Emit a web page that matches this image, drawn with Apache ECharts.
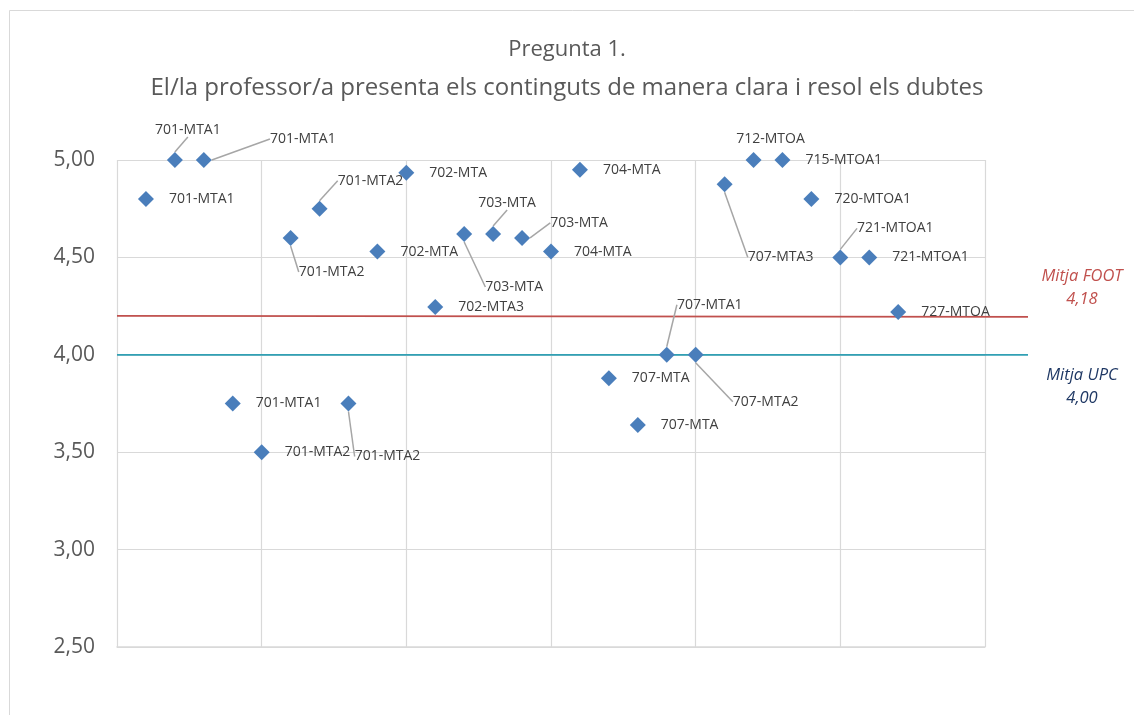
<!DOCTYPE html>
<html><head><meta charset="utf-8">
<script src="https://cdn.jsdelivr.net/npm/echarts@6/dist/echarts.min.js"></script>
<style>html,body{margin:0;padding:0;background:#fff}#c{width:1134px;height:715px}</style>
</head><body><div id="c"></div>
<script>
// ---- data ----
const titleLines = ['Pregunta 1.', 'El/la professor/a presenta els continguts de manera clara i resol els dubtes'];
const groupIndex = [1,2,3,4,5,6,7,8,9,10,11,12,13,14,15,16,17,18,19,20,21,22,23,24,25,26,27];
const groupLabels = ['701-MTA1','701-MTA1','701-MTA1','701-MTA1','701-MTA2','701-MTA2','701-MTA2','701-MTA2',
  '702-MTA','702-MTA','702-MTA3','703-MTA','703-MTA','703-MTA','704-MTA','704-MTA',
  '707-MTA','707-MTA','707-MTA1','707-MTA2','707-MTA3','712-MTOA','715-MTOA1','720-MTOA1',
  '721-MTOA1','721-MTOA1','727-MTOA'];
const scores = [4.80,5.00,5.00,3.75,3.50,4.60,4.75,3.75,
  4.53,4.935,4.245,4.62,4.62,4.60,4.53,4.95,
  3.88,3.64,4.00,4.00,4.875,5.00,5.00,4.80,
  4.50,4.50,4.22];
const yTicks = [2.5, 3.0, 3.5, 4.0, 4.5, 5.0];
const avgNames = ['Mitja FOOT', 'Mitja UPC'];
const avgValues = [4.18, 4.00];
const footLineY = [4.20, 4.195];   // line as drawn in the picture
const upcLineY = [4.00, 4.00];
const lineX = [0, 1];              // from the left of the plot to past its right edge

// ---- layout (label offsets in px from point centre to label centre) ----
const leaderOffsets = {
  1:[13,-30], 2:[99,-21], 5:[41,34], 6:[51,-28], 7:[39,53],
  11:[50,53], 12:[14,-31], 13:[57,-15], 18:[43,-50], 19:[70,47],
  20:[56,73], 24:[55,-29]
};
const topOffsets = { 21:[17,-21] };

const fmt = v => v.toFixed(2).replace('.', ',');
const FONT = 'Open Sans';
const BLUE = '#4a7ebb';

const plainData = [], leaderData = [], leaderOff = [];
groupIndex.forEach((x, i) => {
  const item = { value: [x, scores[i]], name: groupLabels[i] };
  if (leaderOffsets[i]) { leaderData.push(item); leaderOff.push(leaderOffsets[i]); }
  else {
    if (topOffsets[i]) item.label = { position: 'inside', offset: topOffsets[i] };
    plainData.push(item);
  }
});

const chart = echarts.init(document.getElementById('c'), null, { renderer: 'canvas' });
chart.setOption({
  animation: false,
  backgroundColor: '#fff',
  title: {
    text: '{a|' + titleLines[0] + '}\n{b|' + titleLines[1] + '}', left: 'center', top: 26,
    textStyle: {
      fontWeight: 'normal',
      rich: {
        a: { fontFamily: FONT, fontSize: 22, fontWeight: 'normal', color: '#595959', lineHeight: 38 },
        b: { fontFamily: FONT, fontSize: 24, fontWeight: 'normal', color: '#595959', lineHeight: 38 }
      }
    }
  },
  graphic: [{
    type: 'rect', shape: { x: 9.5, y: 10.5, width: 1200, height: 800 },
    style: { fill: 'none', stroke: '#d9d9d9', lineWidth: 1 }, silent: true, z: -10
  }],
  grid: [
    { left: 117, right: 149, top: 160, bottom: 68 },
    { left: 117, right: 106, top: 160, bottom: 68 }
  ],
  xAxis: [{
    type: 'value', min: 0, max: 30, interval: 5, gridIndex: 0,
    axisLabel: { show: false }, axisTick: { show: false },
    axisLine: { show: true, lineStyle: { color: '#d9d9d9', width: 1.5 } },
    splitLine: { show: true, lineStyle: { color: '#d9d9d9', width: 1.2 } }
  }, {
    type: 'value', min: 0, max: 1, gridIndex: 1, show: false
  }],
  yAxis: [{
    type: 'value', min: yTicks[0], max: yTicks[yTicks.length - 1], interval: 0.5, gridIndex: 0,
    axisLine: { show: false }, axisTick: { show: false },
    axisLabel: { formatter: v => fmt(v), fontFamily: FONT, fontSize: 21, color: '#595959', margin: 22 },
    splitLine: { show: true, lineStyle: { color: '#d9d9d9', width: 1.2 } }
  }, {
    type: 'value', min: yTicks[0], max: yTicks[yTicks.length - 1], gridIndex: 1, show: false
  }],
  series: [
    {
      type: 'line', xAxisIndex: 1, yAxisIndex: 1, symbol: 'none', silent: true, z: 1,
      data: lineX.map((x, i) => [x, footLineY[i]]),
      lineStyle: { color: '#c0504d', width: 1.8 },
      endLabel: {
        show: true, formatter: () => avgNames[0] + '\n' + fmt(avgValues[0]),
        fontFamily: FONT, fontStyle: 'italic', fontSize: 16.5, color: '#c0504d',
        align: 'center', lineHeight: 23, offset: [46, -29]
      }
    },
    {
      type: 'line', xAxisIndex: 1, yAxisIndex: 1, symbol: 'none', silent: true, z: 1,
      data: lineX.map((x, i) => [x, upcLineY[i]]),
      lineStyle: { color: '#31a0b4', width: 1.8 },
      endLabel: {
        show: true, formatter: () => avgNames[1] + '\n' + fmt(avgValues[1]),
        fontFamily: FONT, fontStyle: 'italic', fontSize: 16.5, color: '#1f3864',
        align: 'center', lineHeight: 23, offset: [46, 32]
      }
    },
    {
      type: 'scatter', symbol: 'diamond', symbolSize: 16, z: 3,
      itemStyle: { color: BLUE, opacity: 1 },
      data: plainData,
      label: {
        show: true, position: 'right', distance: 15, formatter: p => p.name,
        fontFamily: FONT, fontSize: 14, color: '#404040'
      }
    },
    {
      type: 'scatter', symbol: 'diamond', symbolSize: 16, z: 3,
      itemStyle: { color: BLUE, opacity: 1 },
      data: leaderData,
      label: {
        show: true, position: 'inside', formatter: p => p.name,
        fontFamily: FONT, fontSize: 14, color: '#404040'
      },
      labelLine: { show: true, lineStyle: { color: '#a6a6a6', width: 1.5 } },
      labelLayout: p => ({ dx: leaderOff[p.dataIndex][0], dy: leaderOff[p.dataIndex][1] })
    }
  ]
});
</script>
</body></html>
